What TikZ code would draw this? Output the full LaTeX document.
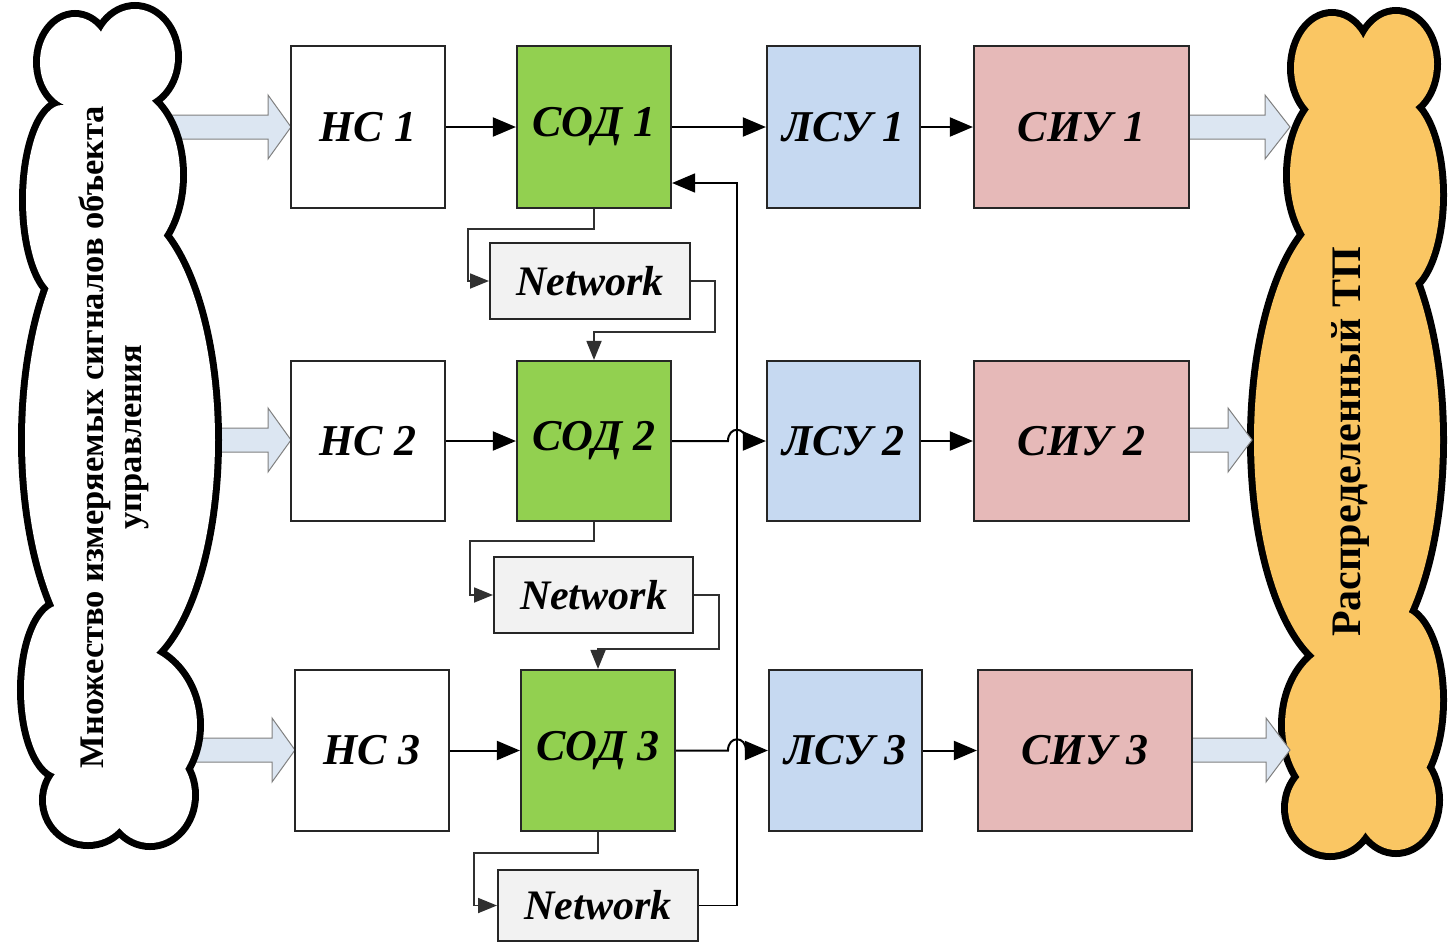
\documentclass[tikz,border=0pt]{standalone}
\usepackage{fontspec}
\setmainfont{Liberation Serif}
\usetikzlibrary{arrows.meta,calc}
\definecolor{sodgreen}{HTML}{92D050}
\definecolor{lsublue}{HTML}{C6D9F1}
\definecolor{siupink}{HTML}{E6B9B8}
\definecolor{netgray}{HTML}{F2F2F2}
\definecolor{cloudorange}{HTML}{FAC663}
\definecolor{barrowfill}{HTML}{DCE6F2}
\definecolor{barrowline}{HTML}{808080}
\definecolor{loopline}{HTML}{303030}
\begin{document}
\begin{tikzpicture}[x=1pt,y=-1pt,
  blockbox/.style={draw=black!85,line width=2.2pt,minimum width=154pt,minimum height=161pt,inner sep=0pt,
    font=\bfseries\itshape\fontsize{44}{44}\selectfont},
  netbox/.style={draw=black!85,line width=2pt,fill=netgray,minimum width=200pt,minimum height=76pt,inner sep=0pt,
    font=\bfseries\itshape\fontsize{42}{42}\selectfont},
  conn/.style={draw=black,line width=2pt,-{Triangle[length=23pt,width=19pt]}},
  loopconn/.style={draw=loopline,line width=1.8pt,-{Triangle[length=19pt,width=15pt]}},
  barrow/.style={fill=barrowfill,draw=barrowline,line width=1pt},
  cloudline/.style={draw=black,line width=14pt},
  cloudtext/.style={rotate=90,align=center,font=\bfseries\fontsize{34.5}{38}\selectfont}
]
\useasboundingbox (0,0) rectangle (1453,943);

% ---------- left block arrows (tails hidden under the cloud) ----------
\path[barrow] (150,115) -- (268,115) -- (268,95) -- (291,127) -- (268,159) -- (268,139) -- (150,139) -- cycle;
\path[barrow] (180,428) -- (268,428) -- (268,408) -- (291,440) -- (268,472) -- (268,452) -- (180,452) -- cycle;
\path[barrow] (170,738) -- (272,738) -- (272,718) -- (295,750) -- (272,782) -- (272,762) -- (170,762) -- cycle;

% ---------- left cloud ----------
\def\LeftCloud{%
  (120,440) ellipse[x radius=95pt,y radius=230pt]
  (125,175) ellipse[x radius=55pt,y radius=85pt]
  (62,200) ellipse[x radius=36pt,y radius=95pt]
  (105,120) ellipse[x radius=45pt,y radius=40pt]
  (75,62) ellipse[x radius=35pt,y radius=45pt]
  (135,57) ellipse[x radius=40pt,y radius=48pt]
  (125,725) ellipse[x radius=72pt,y radius=80pt]
  (60,690) ellipse[x radius=36pt,y radius=85pt]
  (88,800) ellipse[x radius=42pt,y radius=42pt]
  (150,795) ellipse[x radius=42pt,y radius=48pt]}
\path[cloudline,fill=white] \LeftCloud;
\fill[white] \LeftCloud;
\node[cloudtext] (lefttext) at (114,437) {Множество измеряемых сигналов объекта\\управления};

% ---------- right cloud ----------
\def\RightCloud{%
  (1347,440) ellipse[x radius=93pt,y radius=230pt]
  (1342,175) ellipse[x radius=52pt,y radius=85pt]
  (1400,195) ellipse[x radius=40pt,y radius=95pt]
  (1370,120) ellipse[x radius=45pt,y radius=40pt]
  (1332,68) ellipse[x radius=38pt,y radius=52pt]
  (1396,64) ellipse[x radius=38pt,y radius=50pt]
  (1345,725) ellipse[x radius=60pt,y radius=80pt]
  (1400,700) ellipse[x radius=40pt,y radius=90pt]
  (1330,808) ellipse[x radius=42pt,y radius=45pt]
  (1396,800) ellipse[x radius=40pt,y radius=50pt]}
\path[cloudline,fill=cloudorange] \RightCloud;
\fill[cloudorange] \RightCloud;
\node[cloudtext,font=\bfseries\fontsize{42}{44}\selectfont] (righttext) at (1350,442) {Распределенный ТП};

% ---------- right block arrows ----------
\path[barrow] (1189,115) -- (1265,115) -- (1265,95) -- (1290,127) -- (1265,159) -- (1265,139) -- (1189,139) -- cycle;
\path[barrow] (1189,428) -- (1228,428) -- (1228,408) -- (1252,440) -- (1228,472) -- (1228,452) -- (1189,452) -- cycle;
\path[barrow] (1192,738) -- (1266,738) -- (1266,718) -- (1290,750) -- (1266,782) -- (1266,762) -- (1192,762) -- cycle;

% ---------- boxes ----------
\node[blockbox,minimum height=162pt] (ns1) at (368,127) {НС 1};
\node[blockbox,minimum height=162pt,fill=sodgreen] (sod1) at (594,127) {СОД 1};
\node[blockbox,minimum height=162pt,minimum width=153pt,fill=lsublue] (lsu1) at (843.5,127) {ЛСУ 1};
\node[blockbox,minimum height=162pt,minimum width=215pt,fill=siupink] (siu1) at (1081.5,127) {СИУ 1};

\node[blockbox,minimum height=160pt] (ns2) at (368,441) {НС 2};
\node[blockbox,minimum height=160pt,fill=sodgreen] (sod2) at (594,441) {СОД 2};
\node[blockbox,minimum height=160pt,minimum width=153pt,fill=lsublue] (lsu2) at (843.5,441) {ЛСУ 2};
\node[blockbox,minimum height=160pt,minimum width=215pt,fill=siupink] (siu2) at (1081.5,441) {СИУ 2};

\node[blockbox] (ns3) at (372,750.5) {НС 3};
\node[blockbox,fill=sodgreen] (sod3) at (598,750.5) {СОД 3};
\node[blockbox,minimum width=153pt,fill=lsublue] (lsu3) at (845.5,750.5) {ЛСУ 3};
\node[blockbox,minimum width=214pt,fill=siupink] (siu3) at (1085,750.5) {СИУ 3};

\node[netbox] (net1) at (590,281) {Network};
\node[netbox,minimum width=199pt] (net2) at (593.5,595) {Network};
\node[netbox,minimum height=71pt] (net3) at (598,905.5) {Network};

\coordinate (fb) at (737,183);

% ---------- row connectors ----------
\draw[conn] (ns1) -- (sod1);
\draw[conn] (sod1) -- (lsu1);
\draw[conn] (lsu1) -- (siu1);

\draw[conn] (ns2) -- (sod2);
\draw[conn] (sod2.east) -- ($(sod2.east -| fb)+(-9,0)$)
  .. controls +(0,-15) and +(0,-15) .. ($(sod2.east -| fb)+(9,0)$) -- (lsu2.west);
\draw[conn] (lsu2) -- (siu2);

\draw[conn] (ns3) -- (sod3);
\draw[conn] (sod3.east) -- ($(sod3.east -| fb)+(-9,0)$)
  .. controls +(0,-15) and +(0,-15) .. ($(sod3.east -| fb)+(9,0)$) -- (lsu3.west);
\draw[conn] (lsu3) -- (siu3);

% ---------- feedback line ----------
\draw[conn,line width=1.8pt]
  (net3.east) -- (net3.east -| fb) -- (fb) -- (sod1.east |- fb);

% ---------- network loops ----------
\draw[loopconn] (sod1.south) -- ++(0,20) -- ++(-126,0) |- (net1.west);
\draw[loopconn] (net1.east) -- ++(24,0) |- ($(sod2.north)+(0,-28)$) -- (sod2.north);
\draw[loopconn] (sod2.south) -- ++(0,19) -- ++(-124,0) |- (net2.west);
\draw[loopconn] (net2.east) -- ++(25,0) |- ($(sod3.north)+(0,-20)$) -- (sod3.north);
\draw[loopconn] (sod3.south) -- ++(0,21) -- ++(-124,0) |- (net3.west);
\end{tikzpicture}
\end{document}
